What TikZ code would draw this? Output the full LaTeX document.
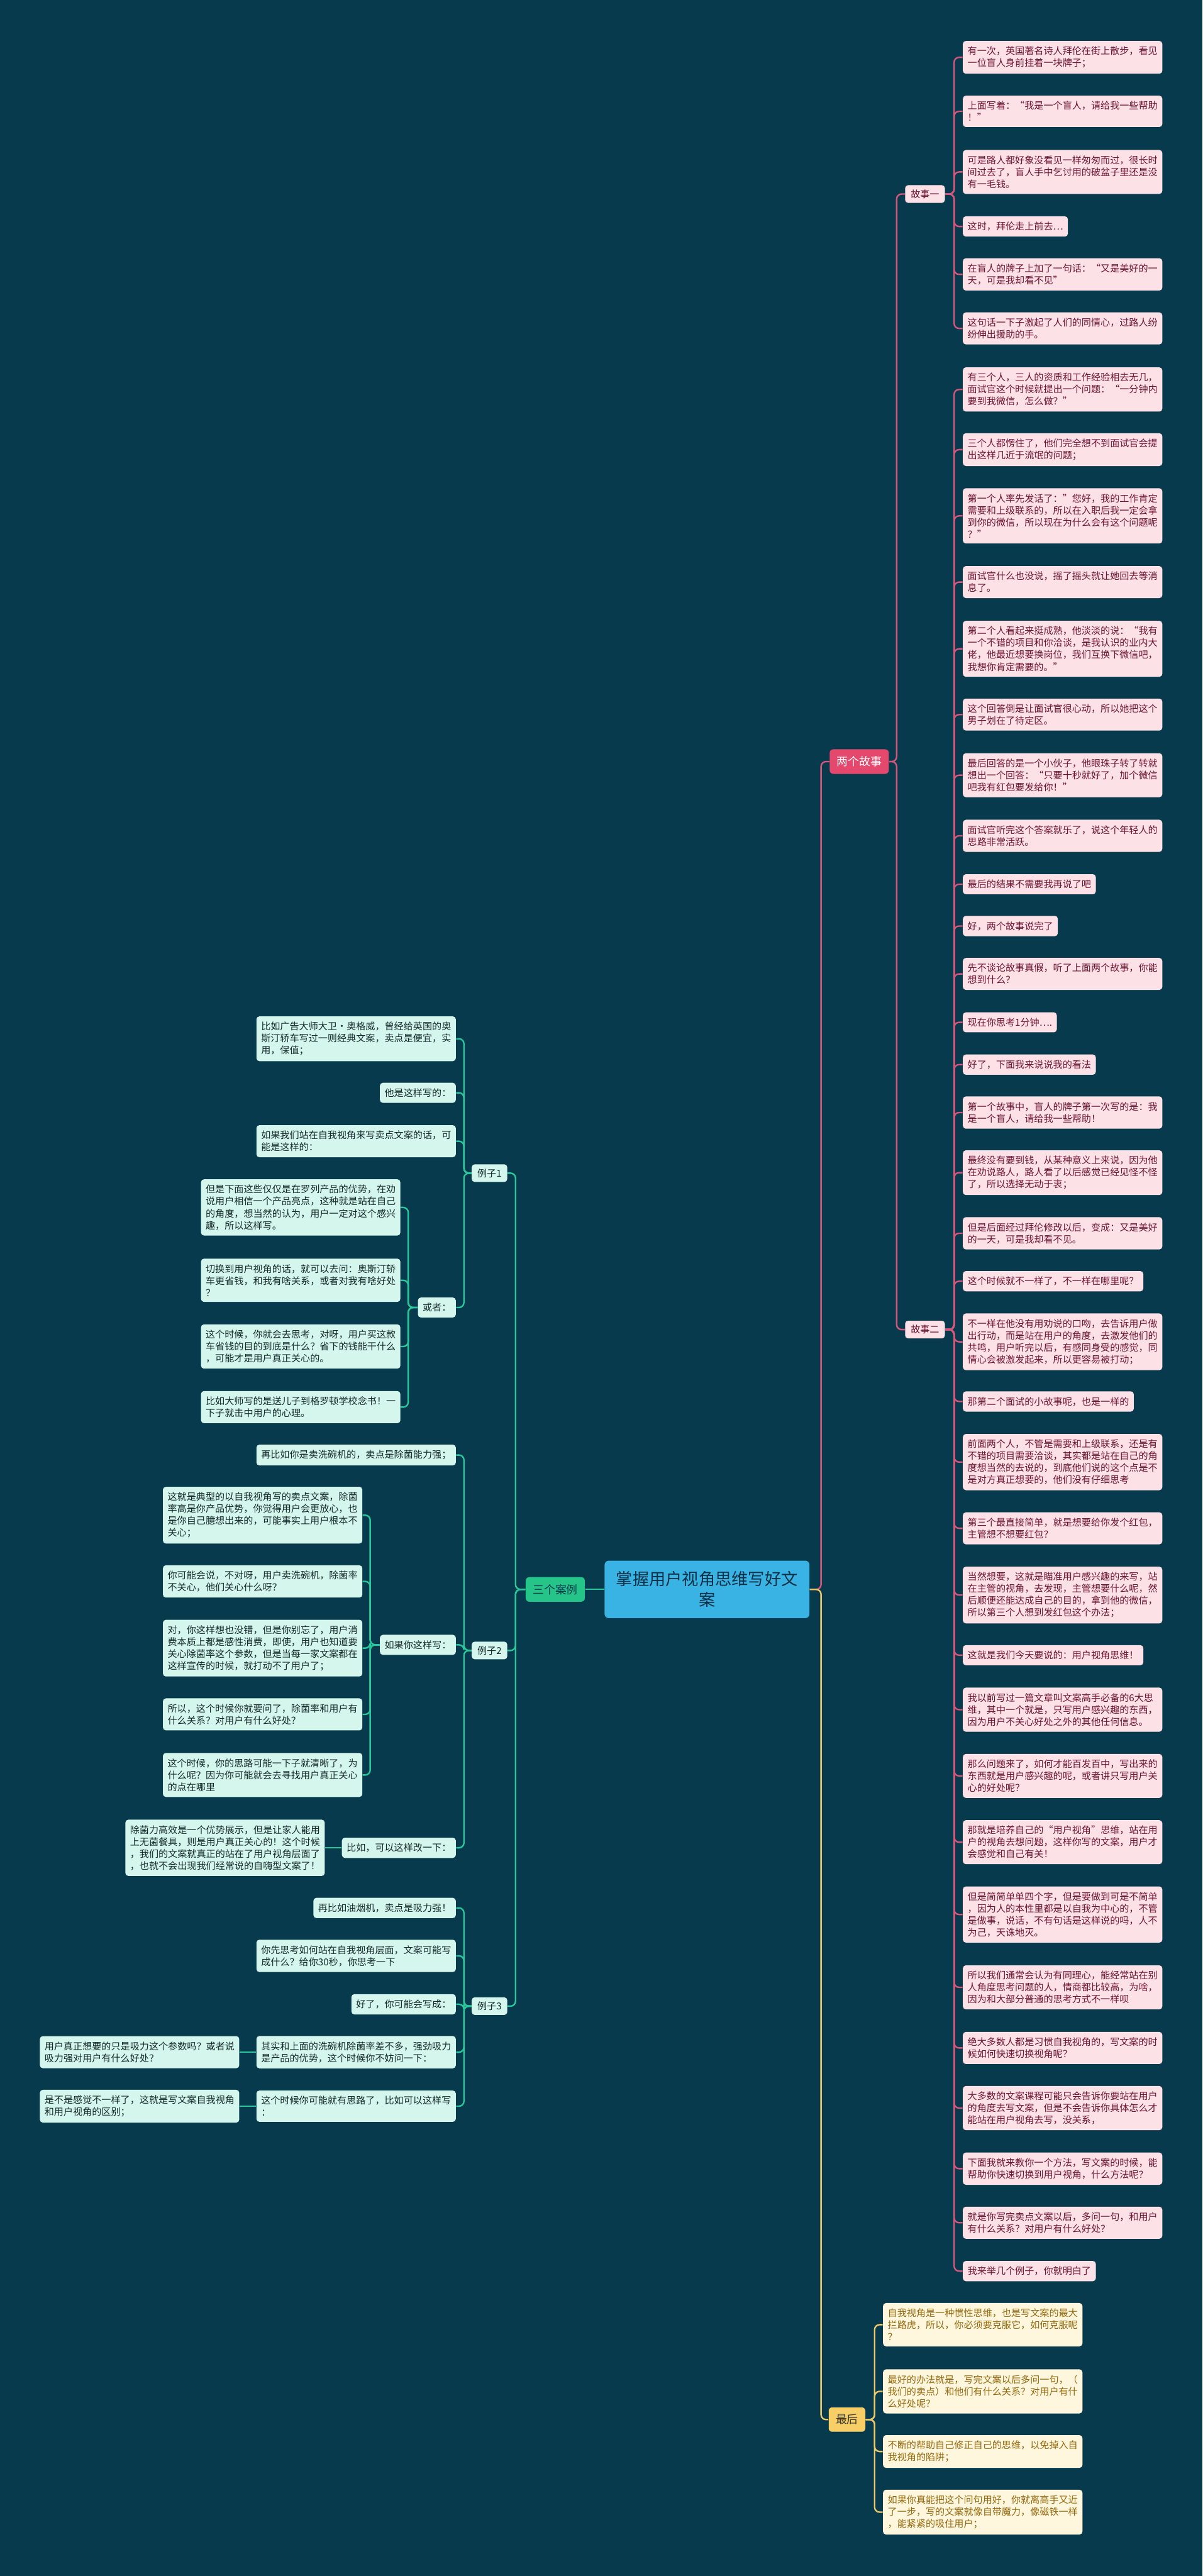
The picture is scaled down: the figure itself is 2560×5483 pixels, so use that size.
\documentclass[tikz,border=0pt]{standalone}
\usepackage{fontspec}
\setmainfont{Noto Sans CJK SC}
\usetikzlibrary{positioning}

\definecolor{bg}{HTML}{083A4E}
\definecolor{pinkline}{HTML}{D6577B}
\definecolor{pinkfill}{HTML}{FCE1E7}
\definecolor{pinktext}{HTML}{6E1430}
\definecolor{greenline}{HTML}{27C89B}
\definecolor{mintfill}{HTML}{D4F6EC}
\definecolor{minttext}{HTML}{14282A}
\definecolor{goldline}{HTML}{E9C96A}
\definecolor{creamfill}{HTML}{FEF6DD}
\definecolor{creamtext}{HTML}{94690C}
\definecolor{rootfill}{HTML}{38B3E3}
\definecolor{roottext}{HTML}{0C2F45}
\definecolor{storyfill}{HTML}{E4486D}
\definecolor{casefill}{HTML}{25C488}
\definecolor{lastfill}{HTML}{F7CF66}

\begin{document}
\begin{tikzpicture}[x=0.01cm,y=-0.01cm,
  leaf/.style={rounded corners=1.8pt,align=left,inner xsep=2.85pt,inner ysep=3.4pt,
    font=\fontsize{5.75}{7.25}\selectfont},
  pleaf/.style={leaf,fill=pinkfill,text=pinktext},
  gleaf/.style={leaf,fill=mintfill,text=minttext},
  yleaf/.style={leaf,fill=creamfill,text=creamtext},
  sub/.style={rounded corners=1.8pt,inner xsep=3.4pt,inner ysep=2.7pt,
    font=\fontsize{5.75}{7.25}\selectfont},
  branch/.style={rounded corners=2.2pt,inner sep=4.3pt,font=\fontsize{6.8}{8.5}\selectfont},
  link/.style={line width=0.9pt,rounded corners=3pt},
  plink/.style={link,pinkline},
  glink/.style={link,greenline},
  ylink/.style={link,goldline}]
  \useasboundingbox (0,0) rectangle (2560,5483);
  \fill[bg] (0,0) rectangle (2560,5483);

  % root and main branches
  \node[rounded corners=2.5pt,fill=rootfill,text=roottext,align=center,inner xsep=7pt,inner ysep=6.5pt,
    font=\fontsize{10}{12.5}\selectfont] (root) at (1505,3383) {掌握用户视角思维写好文\\案};
  \node[branch,fill=storyfill,text=white] (story) at (1829,1621) {两个故事};
  \node[branch,fill=lastfill,text=black!80] (last) at (1803,5150) {最后};
  \node[branch,fill=casefill,text=bg] (cases) at (1182,3383) {三个案例};

  \node[sub,fill=pinkfill,text=pinktext] (st1) at (1969,413) {故事一};
  \node[sub,fill=pinkfill,text=pinktext] (st2) at (1969,2830) {故事二};
  \node[sub,fill=mintfill,text=minttext] (ex1) at (1042,2497) {例子1};
  \node[sub,fill=mintfill,text=minttext] (ex2) at (1042,3513) {例子2};
  \node[sub,fill=mintfill,text=minttext] (ex3) at (1042,4270) {例子3};

  % story one
  \node[pleaf,anchor=west] (p1) at (2049,122) {有一次，英国著名诗人拜伦在街上散步，看见\\一位盲人身前挂着一块牌子；};
  \node[pleaf,anchor=west] (p2) at (2049,237) {上面写着：“我是一个盲人，请给我一些帮助\\！”};
  \node[pleaf,anchor=west] (p3) at (2049,366) {可是路人都好象没看见一样匆匆而过，很长时\\间过去了，盲人手中乞讨用的破盆子里还是没\\有一毛钱。};
  \node[pleaf,anchor=west] (p4) at (2049,482) {这时，拜伦走上前去…};
  \node[pleaf,anchor=west] (p5) at (2049,584) {在盲人的牌子上加了一句话：“又是美好的一\\天，可是我却看不见”};
  \node[pleaf,anchor=west] (p6) at (2049,699) {这句话一下子激起了人们的同情心，过路人纷\\纷伸出援助的手。};

  % story two
  \node[pleaf,anchor=west] (q1) at (2049,829) {有三个人，三人的资质和工作经验相去无几，\\面试官这个时候就提出一个问题：“一分钟内\\要到我微信，怎么做？”};
  \node[pleaf,anchor=west] (q2) at (2049,957) {三个人都愣住了，他们完全想不到面试官会提\\出这样几近于流氓的问题；};
  \node[pleaf,anchor=west] (q3) at (2049,1098) {第一个人率先发话了：”您好，我的工作肯定\\需要和上级联系的，所以在入职后我一定会拿\\到你的微信，所以现在为什么会有这个问题呢\\？”};
  \node[pleaf,anchor=west] (q4) at (2049,1239) {面试官什么也没说，摇了摇头就让她回去等消\\息了。};
  \node[pleaf,anchor=west] (q5) at (2049,1381) {第二个人看起来挺成熟，他淡淡的说：“我有\\一个不错的项目和你洽谈，是我认识的业内大\\佬，他最近想要换岗位，我们互换下微信吧，\\我想你肯定需要的。”};
  \node[pleaf,anchor=west] (q6) at (2049,1521) {这个回答倒是让面试官很心动，所以她把这个\\男子划在了待定区。};
  \node[pleaf,anchor=west] (q7) at (2049,1650) {最后回答的是一个小伙子，他眼珠子转了转就\\想出一个回答：“只要十秒就好了，加个微信\\吧我有红包要发给你！”};
  \node[pleaf,anchor=west] (q8) at (2049,1779) {面试官听完这个答案就乐了，说这个年轻人的\\思路非常活跃。};
  \node[pleaf,anchor=west] (q9) at (2049,1882) {最后的结果不需要我再说了吧};
  \node[pleaf,anchor=west] (q10) at (2049,1971) {好，两个故事说完了};
  \node[pleaf,anchor=west] (q11) at (2049,2073) {先不谈论故事真假，听了上面两个故事，你能\\想到什么？};
  \node[pleaf,anchor=west] (q12) at (2049,2176) {现在你思考1分钟….};
  \node[pleaf,anchor=west] (q13) at (2049,2266) {好了，下面我来说说我的看法};
  \node[pleaf,anchor=west] (q14) at (2049,2368) {第一个故事中，盲人的牌子第一次写的是：我\\是一个盲人，请给我一些帮助！};
  \node[pleaf,anchor=west] (q15) at (2049,2496) {最终没有要到钱，从某种意义上来说，因为他\\在劝说路人，路人看了以后感觉已经见怪不怪\\了，所以选择无动于衷；};
  \node[pleaf,anchor=west] (q16) at (2049,2625) {但是后面经过拜伦修改以后，变成：又是美好\\的一天，可是我却看不见。};
  \node[pleaf,anchor=west] (q17) at (2049,2727) {这个时候就不一样了，不一样在哪里呢？};
  \node[pleaf,anchor=west] (q18) at (2049,2856) {不一样在他没有用劝说的口吻，去告诉用户做\\出行动，而是站在用户的角度，去激发他们的\\共鸣，用户听完以后，有感同身受的感觉，同\\情心会被激发起来，所以更容易被打动；};
  \node[pleaf,anchor=west] (q19) at (2049,2983) {那第二个面试的小故事呢，也是一样的};
  \node[pleaf,anchor=west] (q20) at (2049,3112) {前面两个人，不管是需要和上级联系，还是有\\不错的项目需要洽谈，其实都是站在自己的角\\度想当然的去说的，到底他们说的这个点是不\\是对方真正想要的，他们没有仔细思考};
  \node[pleaf,anchor=west] (q21) at (2049,3253) {第三个最直接简单，就是想要给你发个红包，\\主管想不想要红包？};
  \node[pleaf,anchor=west] (q22) at (2049,3395) {当然想要，这就是瞄准用户感兴趣的来写，站\\在主管的视角，去发现，主管想要什么呢，然\\后顺便还能达成自己的目的，拿到他的微信，\\所以第三个人想到发红包这个办法；};
  \node[pleaf,anchor=west] (q23) at (2049,3523) {这就是我们今天要说的：用户视角思维！};
  \node[pleaf,anchor=west] (q24) at (2049,3639) {我以前写过一篇文章叫文案高手必备的6大思\\维，其中一个就是，只写用户感兴趣的东西，\\因为用户不关心好处之外的其他任何信息。};
  \node[pleaf,anchor=west] (q25) at (2049,3780) {那么问题来了，如何才能百发百中，写出来的\\东西就是用户感兴趣的呢，或者讲只写用户关\\心的好处呢？};
  \node[pleaf,anchor=west] (q26) at (2049,3921) {那就是培养自己的“用户视角”思维，站在用\\户的视角去想问题，这样你写的文案，用户才\\会感觉和自己有关！};
  \node[pleaf,anchor=west] (q27) at (2049,4075) {但是简简单单四个字，但是要做到可是不简单\\，因为人的本性里都是以自我为中心的，不管\\是做事，说话，不有句话是这样说的吗，人不\\为己，天诛地灭。};
  \node[pleaf,anchor=west] (q28) at (2049,4230) {所以我们通常会认为有同理心，能经常站在别\\人角度思考问题的人，情商都比较高，为啥，\\因为和大部分普通的思考方式不一样呗};
  \node[pleaf,anchor=west] (q29) at (2049,4359) {绝大多数人都是习惯自我视角的，写文案的时\\候如何快速切换视角呢？};
  \node[pleaf,anchor=west] (q30) at (2049,4487) {大多数的文案课程可能只会告诉你要站在用户\\的角度去写文案，但是不会告诉你具体怎么才\\能站在用户视角去写，没关系，};
  \node[pleaf,anchor=west] (q31) at (2049,4616) {下面我就来教你一个方法，写文案的时候，能\\帮助你快速切换到用户视角，什么方法呢？};
  \node[pleaf,anchor=west] (q32) at (2049,4731) {就是你写完卖点文案以后，多问一句，和用户\\有什么关系？对用户有什么好处？};
  \node[pleaf,anchor=west] (q33) at (2049,4834) {我来举几个例子，你就明白了};

  % last
  \node[yleaf,anchor=west] (f1) at (1879,4948) {自我视角是一种惯性思维，也是写文案的最大\\拦路虎，所以，你必须要克服它，如何克服呢\\？};
  \node[yleaf,anchor=west] (f2) at (1879,5090) {最好的办法就是，写完文案以后多问一句，（\\我们的卖点）和他们有什么关系？对用户有什\\么好处呢？};
  \node[yleaf,anchor=west] (f3) at (1879,5218) {不断的帮助自己修正自己的思维，以免掉入自\\我视角的陷阱；};
  \node[yleaf,anchor=west] (f4) at (1879,5347) {如果你真能把这个问句用好，你就离高手又近\\了一步，写的文案就像自带魔力，像磁铁一样\\，能紧紧的吸住用户；};

  % example 1
  \node[gleaf,anchor=east] (e1) at (971,2211) {比如广告大师大卫·奥格威，曾经给英国的奥\\斯汀轿车写过一则经典文案，卖点是便宜，实\\用，保值；};
  \node[gleaf,anchor=east] (e2) at (971,2326) {他是这样写的：};
  \node[gleaf,anchor=east] (e3) at (971,2429) {如果我们站在自我视角来写卖点文案的话，可\\能是这样的：};
  \node[gleaf,anchor=east] (e4) at (971,2783) {或者：};
  \node[gleaf,anchor=east] (o1) at (853,2570) {但是下面这些仅仅是在罗列产品的优势，在劝\\说用户相信一个产品亮点，这种就是站在自己\\的角度，想当然的认为，用户一定对这个感兴\\趣，所以这样写。};
  \node[gleaf,anchor=east] (o2) at (853,2725) {切换到用户视角的话，就可以去问：奥斯汀轿\\车更省钱，和我有啥关系，或者对我有啥好处\\？};
  \node[gleaf,anchor=east] (o3) at (853,2866) {这个时候，你就会去思考，对呀，用户买这款\\车省钱的目的到底是什么？省下的钱能干什么\\，可能才是用户真正关心的。};
  \node[gleaf,anchor=east] (o4) at (853,2995) {比如大师写的是送儿子到格罗顿学校念书！一\\下子就击中用户的心理。};

  % example 2
  \node[gleaf,anchor=east] (e5) at (971,3097) {再比如你是卖洗碗机的，卖点是除菌能力强；};
  \node[gleaf,anchor=east] (e6) at (971,3501) {如果你这样写：};
  \node[gleaf,anchor=east] (e7) at (971,3933) {比如，可以这样改一下：};
  \node[gleaf,anchor=east] (w1) at (772,3225) {这就是典型的以自我视角写的卖点文案，除菌\\率高是你产品优势，你觉得用户会更放心，也\\是你自己臆想出来的，可能事实上用户根本不\\关心；};
  \node[gleaf,anchor=east] (w2) at (772,3366) {你可能会说，不对呀，用户卖洗碗机，除菌率\\不关心，他们关心什么呀？};
  \node[gleaf,anchor=east] (w3) at (772,3508) {对，你这样想也没错，但是你别忘了，用户消\\费本质上都是感性消费，即使，用户也知道要\\关心除菌率这个参数，但是当每一家文案都在\\这样宣传的时候，就打动不了用户了；};
  \node[gleaf,anchor=east] (w4) at (772,3649) {所以，这个时候你就要问了，除菌率和用户有\\什么关系？对用户有什么好处？};
  \node[gleaf,anchor=east] (w5) at (772,3778) {这个时候，你的思路可能一下子就清晰了，为\\什么呢？因为你可能就会去寻找用户真正关心\\的点在哪里};
  \node[gleaf,anchor=east] (c1) at (692,3933) {除菌力高效是一个优势展示，但是让家人能用\\上无菌餐具，则是用户真正关心的！这个时候\\，我们的文案就真正的站在了用户视角层面了\\，也就不会出现我们经常说的自嗨型文案了！};

  % example 3
  \node[gleaf,anchor=east] (t1) at (971,4061) {再比如油烟机，卖点是吸力强！};
  \node[gleaf,anchor=east] (t2) at (971,4163) {你先思考如何站在自我视角层面，文案可能写\\成什么？给你30秒，你思考一下};
  \node[gleaf,anchor=east] (t3) at (971,4266) {好了，你可能会写成：};
  \node[gleaf,anchor=east] (t4) at (971,4368) {其实和上面的洗碗机除菌率差不多，强劲吸力\\是产品的优势，这个时候你不妨问一下：};
  \node[gleaf,anchor=east] (t5) at (971,4483) {这个时候你可能就有思路了，比如可以这样写\\：};
  \node[gleaf,anchor=east] (t6) at (510,4368) {用户真正想要的只是吸力这个参数吗？或者说\\吸力强对用户有什么好处？};
  \node[gleaf,anchor=east] (t7) at (510,4483) {是不是感觉不一样了，这就是写文案自我视角\\和用户视角的区别；};

  % connectors
  \draw[plink] (root.east) -- ++(24,0) |- (story.west);
  \draw[ylink] (root.east) -- ++(24,0) |- (last.west);
  \draw[glink] (root.west) -- (cases.east);
  \foreach \n in {st1,st2} \draw[plink] (story.east) -- ++(16,0) |- (\n.west);
  \foreach \n in {1,...,6} \draw[plink] (st1.east) -- ++(19,0) |- (p\n.west);
  \foreach \n in {1,...,33} \draw[plink] (st2.east) -- ++(19,0) |- (q\n.west);
  \foreach \n in {1,...,4} \draw[ylink] (last.east) -- ++(19,0) |- (f\n.west);
  \foreach \n in {ex1,ex2,ex3} \draw[glink] (cases.west) -- ++(-21,0) |- (\n.east);
  \foreach \n in {e1,e2,e3,e4} \draw[glink] (ex1.west) -- ++(-16,0) |- (\n.east);
  \foreach \n in {o1,o2,o3,o4} \draw[glink] (e4.west) -- ++(-20,0) |- (\n.east);
  \foreach \n in {e5,e6,e7} \draw[glink] (ex2.west) -- ++(-16,0) |- (\n.east);
  \foreach \n in {w1,w2,w3,w4,w5} \draw[glink] (e6.west) -- ++(-20,0) |- (\n.east);
  \draw[glink] (e7.west) -- (c1.east);
  \foreach \n in {t1,t2,t3,t4,t5} \draw[glink] (ex3.west) -- ++(-16,0) |- (\n.east);
  \draw[glink] (t4.west) -- (t6.east);
  \draw[glink] (t5.west) -- (t7.east);
\end{tikzpicture}
\end{document}
